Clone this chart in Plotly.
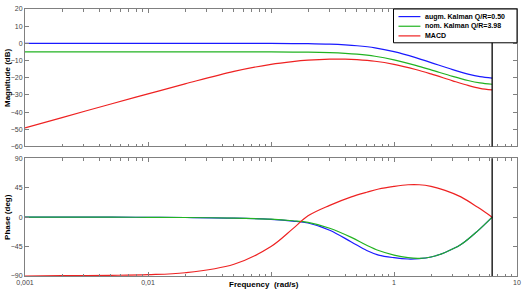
import plotly.graph_objects as go
from plotly.subplots import make_subplots

# ---- data ----
freq_mag = [0.001, 0.002, 0.005, 0.01, 0.02, 0.05, 0.1, 0.15, 0.2, 0.3, 0.4, 0.5,
            0.7, 1.0, 1.5, 2.0, 3.0, 4.0, 5.0, 6.28]
mag_augm = [0, 0, 0, 0, 0, 0, 0, -0.1, -0.2, -0.5, -0.9, -1.4,
            -2.6, -4.8, -8.3, -11.2, -15.3, -17.9, -19.4, -20.2]
mag_nom = [-5, -5, -5, -5, -5, -5, -5, -5.05, -5.1, -5.4, -5.8, -6.3,
           -7.5, -9.6, -12.8, -15.4, -19.2, -21.6, -23.0, -23.8]
mag_macd = [-49.2, -43.2, -35.3, -29.4, -23.6, -16.3, -12.2, -10.6, -9.8, -9.2, -9.2, -9.5,
            -10.4, -12.2, -15.2, -17.8, -21.8, -24.5, -26.2, -27.1]

freq_ph = [0.001, 0.002, 0.005, 0.01, 0.02, 0.05, 0.1, 0.15, 0.2, 0.3, 0.45, 0.6,
           0.75, 1.0, 1.3, 1.6, 2.0, 2.6, 3.5, 4.8, 6.28]
ph_augm = [0, 0, 0, -0.3, -0.6, -1.5, -3.5, -6, -9, -20, -38, -51,
           -58, -62, -64, -63.5, -61, -54, -42, -21, 0]
ph_nom = [0, 0, 0, -0.3, -0.6, -1.5, -3.2, -5.5, -8, -17, -31, -43,
          -51, -58, -62, -63, -61, -54, -42, -21, 0]
ph_macd = [-90, -89.5, -89, -88, -85, -72, -45, -18, 2, 18, 31, 38,
           43, 47, 49.5, 49.5, 47, 41, 31, 15, 0]

nyquist = 6.28
names = ["augm. Kalman Q/R=0.50", "nom. Kalman Q/R=3.98", "MACD"]
colors = ["#1a1aff", "#22b322", "#ee2222"]

x_tickvals = [0.001, 0.01, 0.1, 1, 10]
x_ticktext = ["0,001", "0,01", "", "1", "10"]
x_minor = [m * 10 ** e for e in range(-3, 1) for m in range(2, 10)]
mag_ticks = [20, 10, 0, -10, -20, -30, -40, -50, -60]
ph_ticks = [90, 45, 0, -45, -90]

# ---- layout geometry (pixels) ----
W, H = 526, 299
ML, MR, MT, MB = 25, 7, 5, 23
PW, PH = W - ML - MR, H - MT - MB


def px_x(px):
    return (px - ML) / PW


def px_y(py):
    return (H - MB - py) / PH


fig = make_subplots(rows=2, cols=1, shared_xaxes=False)

for nm, col, ys in zip(names, colors, [mag_augm, mag_nom, mag_macd]):
    fig.add_trace(go.Scatter(x=freq_mag, y=ys, mode="lines", name=nm, showlegend=False,
                             line=dict(color=col, width=1.2, shape="spline")),
                  row=1, col=1)
for nm, col, ys in zip(names, colors, [ph_augm, ph_nom, ph_macd]):
    fig.add_trace(go.Scatter(x=freq_ph, y=ys, mode="lines", name=nm, showlegend=False,
                             line=dict(color=col, width=1.2, shape="spline")),
                  row=2, col=1)

axcol = "#808080"
tickfont = dict(family="Liberation Sans, Arial, sans-serif", size=7, color="#444444")
xcommon = dict(type="log", range=[-3, 1], showline=True, linecolor=axcol, linewidth=1,
               mirror="ticks", ticks="inside", ticklen=4, tickcolor=axcol,
               tickvals=x_tickvals, ticktext=x_ticktext, showgrid=False, zeroline=False,
               minor=dict(tickvals=x_minor, ticks="inside", ticklen=2.5, tickcolor=axcol,
                          showgrid=False),
               tickfont=tickfont)
fig.update_xaxes(**xcommon)
fig.update_xaxes(showticklabels=False, row=1, col=1)
fig.update_xaxes(domain=[0, 1])

ycommon = dict(showline=True, linecolor=axcol, linewidth=1, mirror="ticks",
               ticks="inside", ticklen=4, tickcolor=axcol, showgrid=False,
               zeroline=False, tickfont=tickfont)
fig.update_yaxes(range=[-60, 20], tickvals=mag_ticks, domain=[px_y(144.5), 1.0],
                 **ycommon, row=1, col=1)
fig.update_yaxes(range=[-90, 90], tickvals=ph_ticks, domain=[0.0, px_y(156.5)],
                 **ycommon, row=2, col=1)

# Nyquist vertical lines
fig.add_shape(type="line", xref="x", yref="y domain", x0=nyquist, x1=nyquist,
              y0=0, y1=1, line=dict(color="black", width=1.3))
fig.add_shape(type="line", xref="x2", yref="y2 domain", x0=nyquist, x1=nyquist,
              y0=0, y1=1, line=dict(color="black", width=1.3))

# ---- custom compact legend ----
fig.add_shape(type="rect", xref="paper", yref="paper",
              x0=px_x(395), x1=1.0, y0=px_y(39.3), y1=1.0,
              line=dict(color="black", width=1), fillcolor="white", layer="above")
legfont = dict(family="Liberation Sans, Arial, sans-serif", size=7, color="black")
for i, (nm, col) in enumerate(zip(names, colors)):
    ry = px_y(12.7 + i * 9.8)
    fig.add_shape(type="line", xref="paper", yref="paper",
                  x0=px_x(400), x1=px_x(422), y0=ry, y1=ry,
                  line=dict(color=col, width=1.2), layer="above")
    fig.add_annotation(text="<b>" + nm + "</b>", xref="paper", yref="paper",
                       x=px_x(425), y=ry, xanchor="left", yanchor="middle",
                       showarrow=False, font=legfont)

titlefont = dict(family="Liberation Sans, Arial, sans-serif", size=8, color="black")
fig.add_annotation(text="<b>Magnitude (dB)</b>", xref="paper", yref="paper",
                   x=px_x(8), y=px_y(75), textangle=-90, showarrow=False,
                   xanchor="center", yanchor="middle", font=titlefont)
fig.add_annotation(text="<b>Phase (deg)</b>", xref="paper", yref="paper",
                   x=px_x(8), y=px_y(216), textangle=-90, showarrow=False,
                   xanchor="center", yanchor="middle", font=titlefont)
fig.add_annotation(text="<b>Frequency  (rad/s)</b>", xref="paper", yref="paper",
                   x=px_x(265), y=px_y(285), showarrow=False,
                   xanchor="center", yanchor="middle", font=titlefont)

fig.update_layout(
    width=W, height=H,
    margin=dict(l=ML, r=MR, t=MT, b=MB),
    paper_bgcolor="white", plot_bgcolor="white",
    showlegend=False,
)

fig.write_html("out.html")
